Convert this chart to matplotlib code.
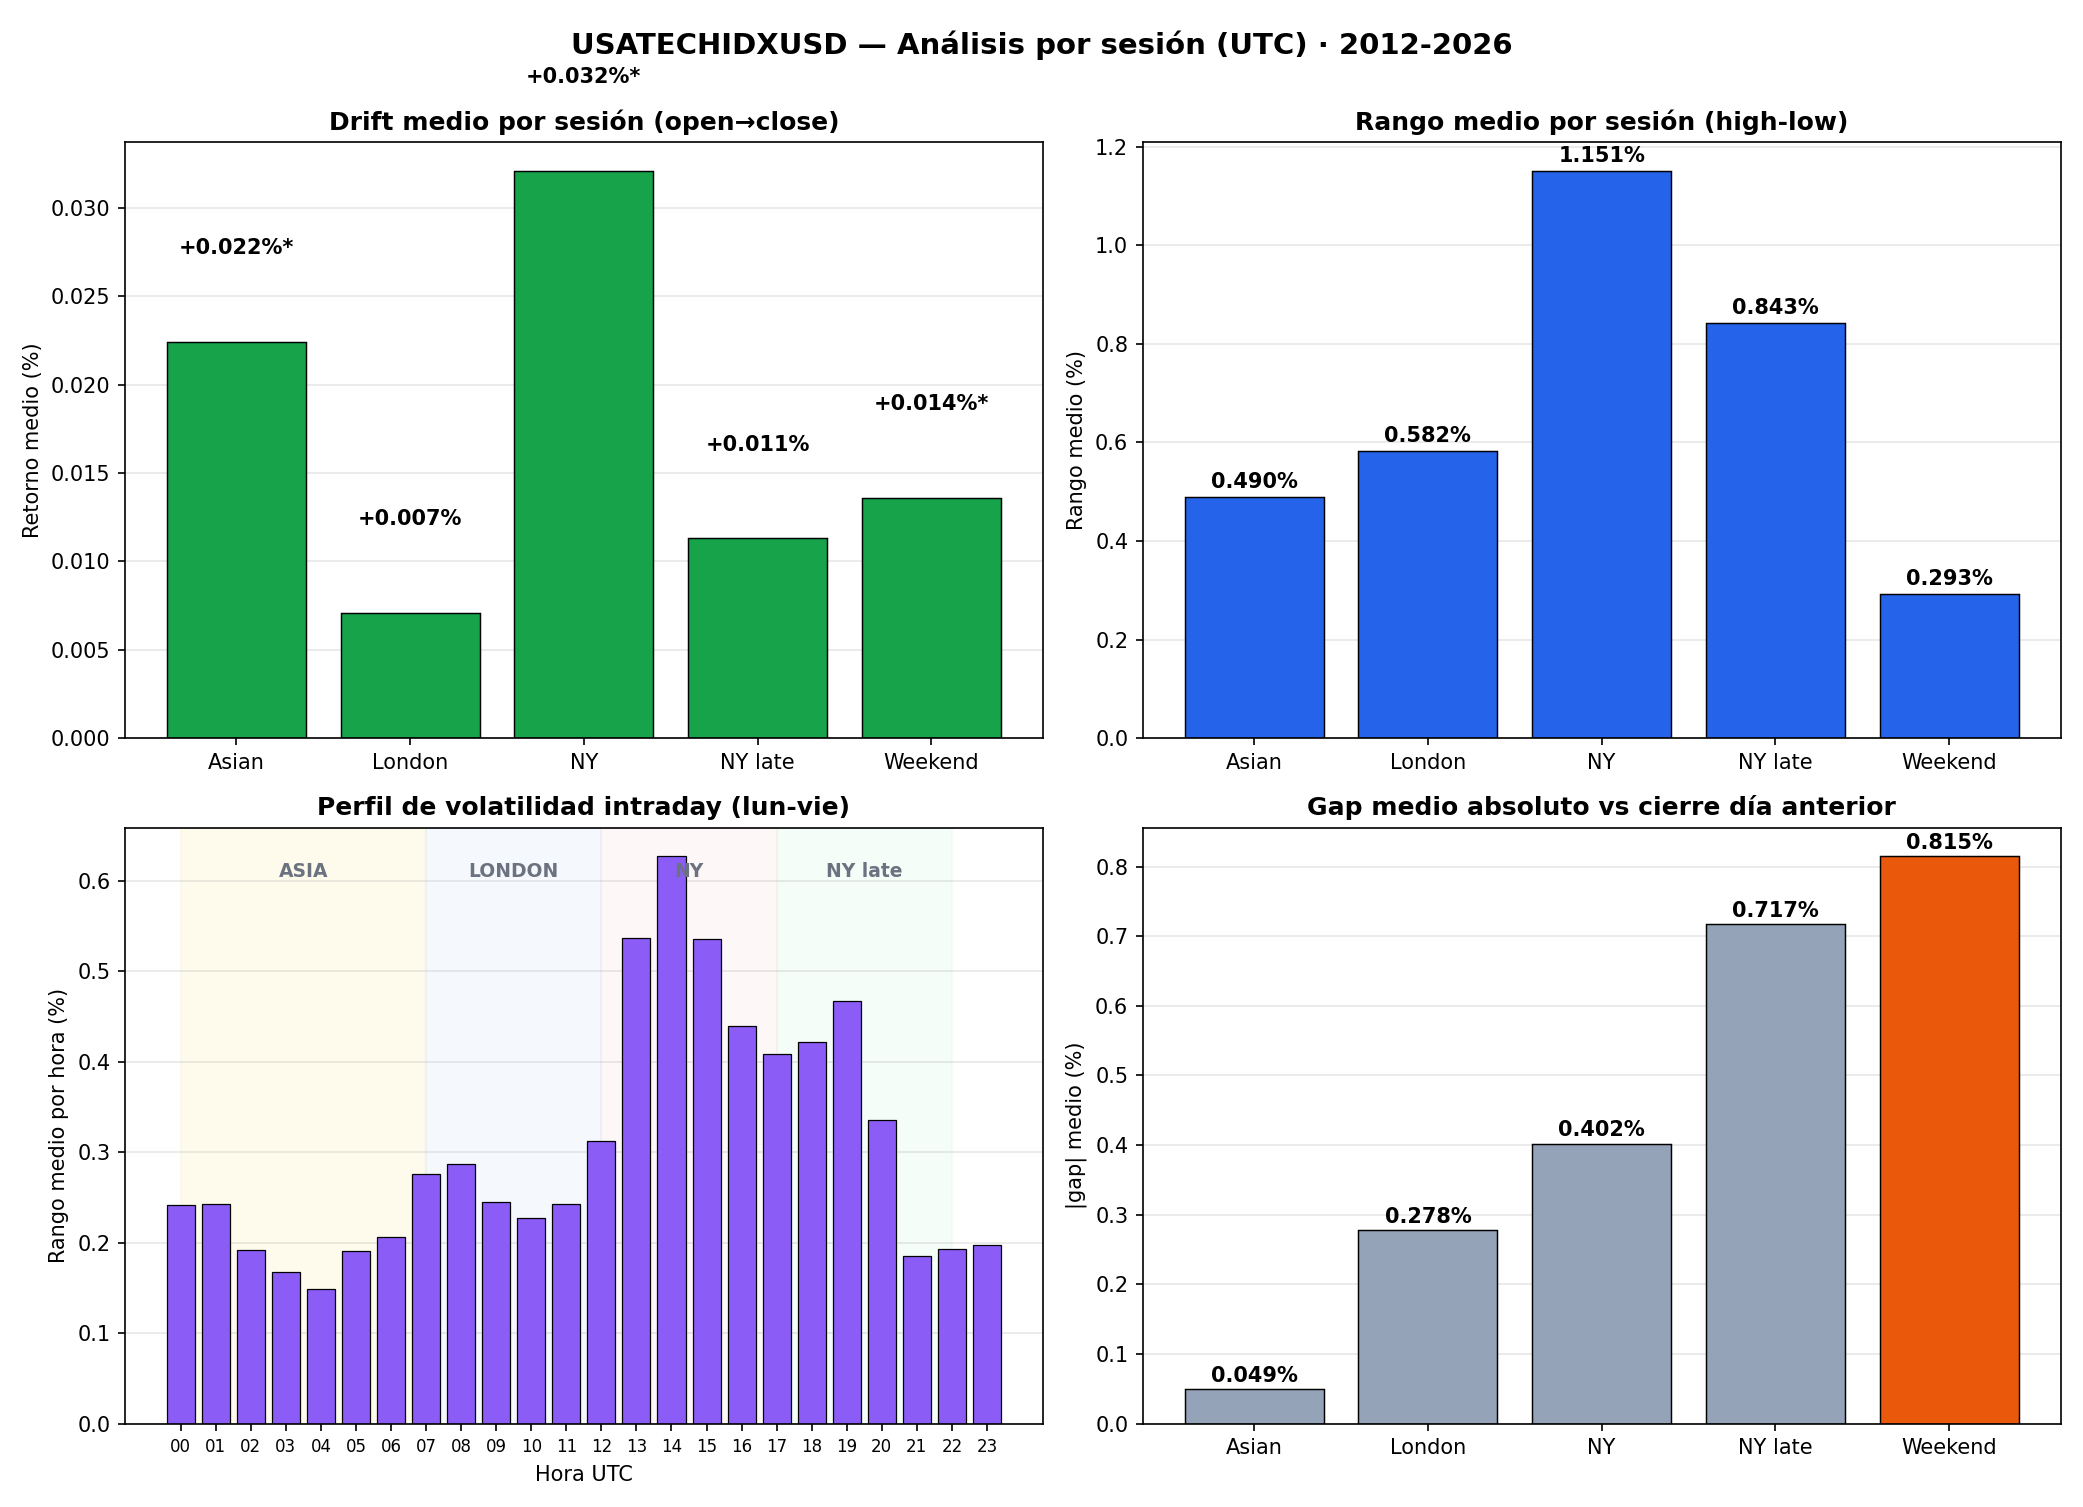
import matplotlib
matplotlib.use("Agg")
import matplotlib.pyplot as plt

sessions = ["Asian", "London", "NY", "NY late", "Weekend"]
drift = [0.0224, 0.0071, 0.0321, 0.0113, 0.0136]
drift_labels = ["+0.022%*", "+0.007%", "+0.032%*", "+0.011%", "+0.014%*"]
rango = [0.490, 0.582, 1.151, 0.843, 0.293]
gap = [0.049, 0.278, 0.402, 0.717, 0.815]
hours = ["%02d" % h for h in range(24)]
hour_range = [0.241, 0.243, 0.192, 0.168, 0.149, 0.191, 0.206, 0.276, 0.287, 0.245,
              0.227, 0.243, 0.312, 0.537, 0.627, 0.535, 0.439, 0.408, 0.422, 0.467,
              0.335, 0.185, 0.193, 0.197]
bands = [("ASIA", 0, 7, "#fde68a"), ("LONDON", 7, 12, "#bfdbfe"),
         ("NY", 12, 17, "#fecaca"), ("NY late", 17, 22, "#bbf7d0")]

fig, axs = plt.subplots(2, 2, figsize=(2083 / 150, 1507 / 150), dpi=150)
fig.suptitle("USATECHIDXUSD — Análisis por sesión (UTC) · 2012-2026", fontsize=14, fontweight="bold")

# drift
ax = axs[0, 0]
ax.bar(sessions, drift, color="#16a34a", edgecolor="black", linewidth=0.7, zorder=2)
for i, (v, t) in enumerate(zip(drift, drift_labels)):
    ax.text(i, v + 0.0053, t, ha="center", va="center", fontweight="bold", fontsize=10)
ax.set_title("Drift medio por sesión (open→close)", fontweight="bold", fontsize=12)
ax.set_ylabel("Retorno medio (%)")
ax.grid(axis="y", alpha=0.3)

# rango
ax = axs[0, 1]
ax.bar(sessions, rango, color="#2563eb", edgecolor="black", linewidth=0.7, zorder=2)
for i, v in enumerate(rango):
    ax.text(i, v + 0.01, "%.3f%%" % v, ha="center", va="bottom", fontweight="bold", fontsize=10)
ax.set_title("Rango medio por sesión (high-low)", fontweight="bold", fontsize=12)
ax.set_ylabel("Rango medio (%)")
ax.grid(axis="y", alpha=0.3)

# intraday
ax = axs[1, 0]
for name, a, b, c in bands:
    ax.axvspan(a, b, color=c, alpha=0.15, zorder=0)
    ax.text((a + b) / 2, 0.61, name, ha="center", va="center", fontweight="bold",
            fontsize=9, color="#6b7280")
ax.bar(range(24), hour_range, color="#8b5cf6", edgecolor="black", linewidth=0.6, zorder=2)
ax.set_xticks(range(24))
ax.set_xticklabels(hours, fontsize=8)
ax.set_title("Perfil de volatilidad intraday (lun-vie)", fontweight="bold", fontsize=12)
ax.set_ylabel("Rango medio por hora (%)")
ax.set_xlabel("Hora UTC")
ax.grid(axis="y", alpha=0.3)

# gap
ax = axs[1, 1]
cols = ["#94a3b8"] * 4 + ["#ea580c"]
ax.bar(sessions, gap, color=cols, edgecolor="black", linewidth=0.7, zorder=2)
for i, v in enumerate(gap):
    ax.text(i, v + 0.005, "%.3f%%" % v, ha="center", va="bottom", fontweight="bold", fontsize=10)
ax.set_title("Gap medio absoluto vs cierre día anterior", fontweight="bold", fontsize=12)
ax.set_ylabel("|gap| medio (%)")
ax.grid(axis="y", alpha=0.3)

fig.tight_layout()
fig.savefig("out.png", dpi=150)
